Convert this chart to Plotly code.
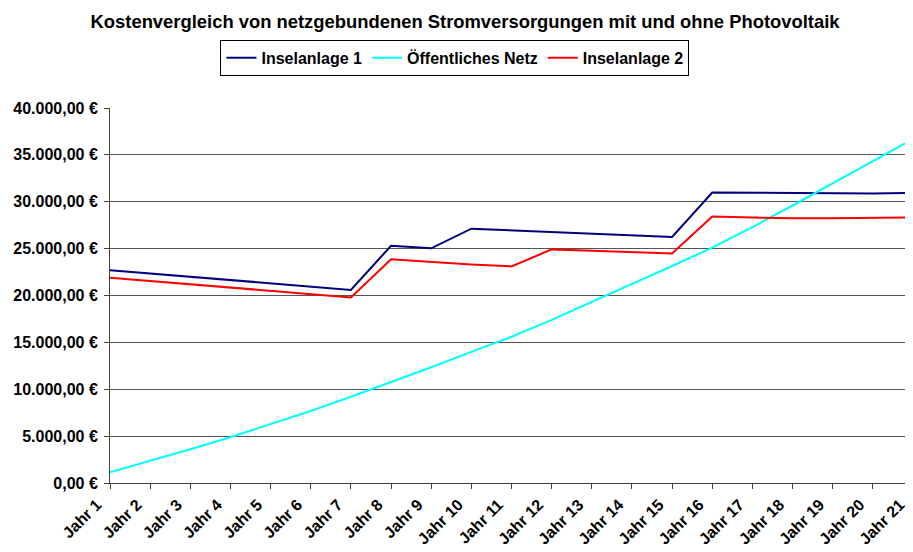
import plotly.graph_objects as go

jahre = [f"Jahr {i}" for i in range(1, 22)]

inselanlage_1 = [22700, 22350, 22000, 21650, 21300, 20950, 20600, 25300, 25030, 27130,
                 26950, 26770, 26600, 26420, 26240, 30980, 30960, 30880, 30870, 30880, 30960]
oeffentliches_netz = [1140, 2340, 3600, 4880, 6250, 7680, 9200, 10750, 12350, 13980,
                      15600, 17400, 19300, 21200, 23150, 25100, 27300, 29600, 31950, 34300, 36690]
inselanlage_2 = [21900, 21550, 21200, 20850, 20500, 20150, 19800, 23860, 23540, 23300,
                 23100, 24920, 24770, 24620, 24470, 28420, 28320, 28230, 28230, 28270, 28320]

y_ticks = [0, 5000, 10000, 15000, 20000, 25000, 30000, 35000, 40000]
y_ticktext = ["0,00 €", "5.000,00 €", "10.000,00 €", "15.000,00 €", "20.000,00 €",
              "25.000,00 €", "30.000,00 €", "35.000,00 €", "40.000,00 €"]

FONT = "Liberation Sans, Arial, sans-serif"

fig = go.Figure()
fig.add_trace(go.Scatter(x=jahre, y=inselanlage_1, mode="lines", name="Inselanlage 1",
                         line=dict(color="#000080", width=2)))
fig.add_trace(go.Scatter(x=jahre, y=oeffentliches_netz, mode="lines", name="Öffentliches Netz",
                         line=dict(color="#00FFFF", width=2)))
fig.add_trace(go.Scatter(x=jahre, y=inselanlage_2, mode="lines", name="Inselanlage 2",
                         line=dict(color="#FF0000", width=2)))

fig.update_layout(
    width=905, height=544,
    margin=dict(l=102, r=0, t=100, b=69, autoexpand=False),
    paper_bgcolor="white", plot_bgcolor="white",
    font=dict(family=FONT, size=16, color="black", weight="bold"),
    title=dict(text="Kostenvergleich von netzgebundenen Stromversorgungen mit und ohne Photovoltaik",
               x=0.505, xanchor="center", xref="container", y=0.975, yanchor="middle",
               font=dict(family=FONT, size=18.4, color="black", weight="bold")),
    legend=dict(orientation="h", x=0.4296, xanchor="center", xref="paper",
                y=1.182, yanchor="top", bordercolor="black", borderwidth=1,
                font=dict(family=FONT, size=16, color="black", weight="bold"),
                itemwidth=30),
    showlegend=True,
)

fig.update_xaxes(type="category", range=[0, 20], tickangle=-45,
                 tickmode="array", tickvals=jahre, ticktext=jahre,
                 ticklabelshift=-13,
                 showgrid=False, showline=True, linecolor="#404040", linewidth=1,
                 ticks="outside", ticklen=5, tickcolor="#404040",
                 tickfont=dict(family=FONT, size=16, color="black", weight="bold"))
fig.update_yaxes(range=[0, 40000], tickvals=y_ticks, ticktext=y_ticktext,
                 ticklabelstandoff=3,
                 showgrid=True, gridcolor="#555555", gridwidth=1,
                 showline=True, linecolor="#404040", linewidth=1,
                 ticks="outside", ticklen=5, tickcolor="#404040", zeroline=False,
                 tickfont=dict(family=FONT, size=16, color="black", weight="bold"))

fig.write_html("out.html")
